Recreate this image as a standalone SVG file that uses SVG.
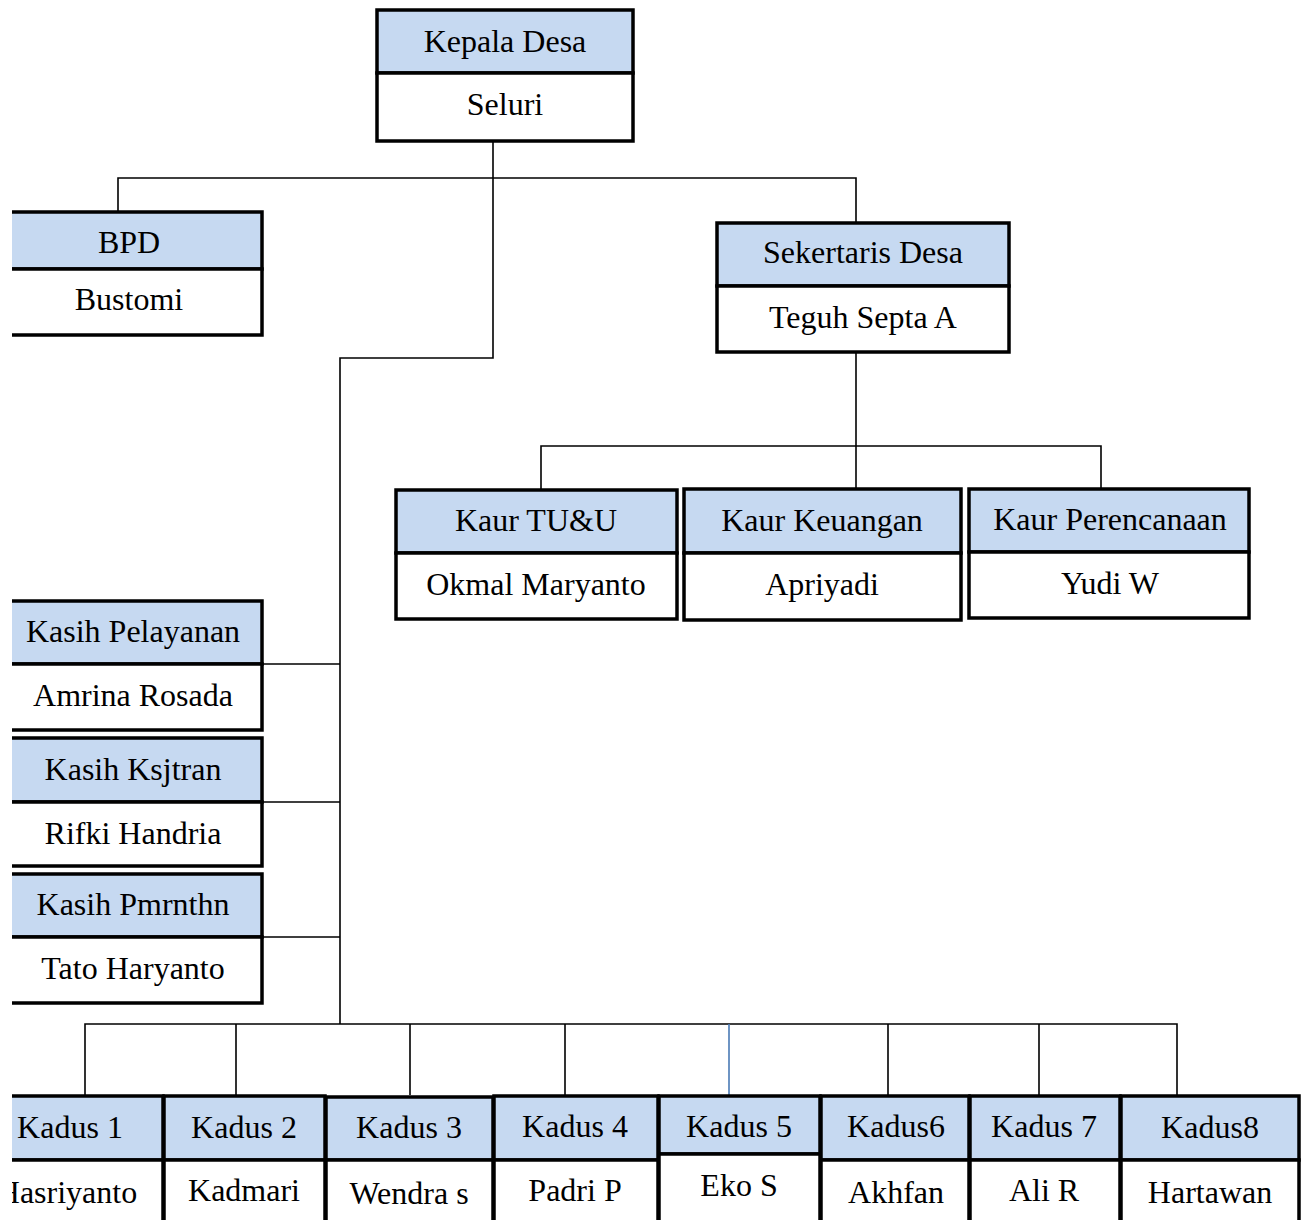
<svg xmlns="http://www.w3.org/2000/svg" width="1307" height="1220" viewBox="0 0 1307 1220">
<style>
.h{fill:#c6d9f1;stroke:#000;stroke-width:3.5}
.b{fill:#fff;stroke:#000;stroke-width:3.5}
.t{font-family:"Liberation Serif","Times New Roman",serif;font-size:32px;fill:#000;text-anchor:middle}
.c{fill:none;stroke:#000;stroke-width:1.6}
</style>
<defs><clipPath id="cp"><rect x="12" y="0" width="1295" height="1220"/></clipPath></defs>
<rect width="1307" height="1220" fill="#fff"/>
<g clip-path="url(#cp)">
<g id="connectors">
<path class="c" d="M493 142V358H340V1024"/>
<path class="c" d="M118 211V178H856V222"/>
<path class="c" d="M856 353V488"/>
<path class="c" d="M541 489V446H1101V488"/>
<path class="c" d="M263 664H340M263 802H340M263 937H340"/>
<path class="c" d="M85 1095V1024H1177V1095"/>
<path class="c" d="M236 1024V1095M410 1024V1095M565 1024V1095M888 1024V1095M1039 1024V1095"/>
<path d="M729 1024V1095" fill="none" stroke="#4a7ab5" stroke-width="1.6"/>
</g>
<g id="kepala"><rect class="h" x="377" y="10" width="256" height="63"/><rect class="b" x="377" y="73" width="256" height="68"/><text class="t" x="505" y="52">Kepala Desa</text><text class="t" x="505" y="115">Seluri</text></g>
<g id="bpd"><rect class="h" x="-5" y="212" width="267" height="57"/><rect class="b" x="-5" y="269" width="267" height="66"/><text class="t" x="129" y="253">BPD</text><text class="t" x="129" y="310">Bustomi</text></g>
<g id="sekdes"><rect class="h" x="717" y="223" width="292" height="63"/><rect class="b" x="717" y="286" width="292" height="66"/><text class="t" x="863" y="263">Sekertaris Desa</text><text class="t" x="863" y="328">Teguh Septa A</text></g>
<g id="kaurtu"><rect class="h" x="396" y="490" width="281" height="63"/><rect class="b" x="396" y="553" width="281" height="66"/><text class="t" x="536" y="531">Kaur TU&amp;U</text><text class="t" x="536" y="595">Okmal Maryanto</text></g>
<g id="kaurkeu"><rect class="h" x="684" y="489" width="277" height="64"/><rect class="b" x="684" y="553" width="277" height="67"/><text class="t" x="822" y="531">Kaur Keuangan</text><text class="t" x="822" y="595">Apriyadi</text></g>
<g id="kaurper"><rect class="h" x="969" y="489" width="280" height="63"/><rect class="b" x="969" y="552" width="280" height="66"/><text class="t" x="1110" y="530">Kaur Perencanaan</text><text class="t" x="1110" y="594">Yudi W</text></g>
<g id="kasihpel"><rect class="h" x="-5" y="601" width="267" height="63"/><rect class="b" x="-5" y="664" width="267" height="66"/><text class="t" x="133" y="642">Kasih Pelayanan</text><text class="t" x="133" y="706">Amrina Rosada</text></g>
<g id="kasihksj"><rect class="h" x="-5" y="738" width="267" height="64"/><rect class="b" x="-5" y="802" width="267" height="64"/><text class="t" x="133" y="780">Kasih Ksjtran</text><text class="t" x="133" y="844">Rifki Handria</text></g>
<g id="kasihpmr"><rect class="h" x="-5" y="874" width="267" height="63"/><rect class="b" x="-5" y="937" width="267" height="66"/><text class="t" x="133" y="915">Kasih Pmrnthn</text><text class="t" x="133" y="979">Tato Haryanto</text></g>
<g id="kadus1"><rect class="h" x="-20" y="1096" width="183" height="64"/><rect class="b" x="-20" y="1160" width="183" height="70"/><text class="t" x="70" y="1138">Kadus 1</text><text class="t" x="67" y="1203">Hasriyanto</text></g>
<g id="kadus2"><rect class="h" x="164" y="1096" width="161" height="64"/><rect class="b" x="164" y="1160" width="161" height="70"/><text class="t" x="244" y="1138">Kadus 2</text><text class="t" x="244" y="1201">Kadmari</text></g>
<g id="kadus3"><rect class="h" x="326" y="1097" width="167" height="63"/><rect class="b" x="326" y="1160" width="167" height="70"/><text class="t" x="409" y="1138">Kadus 3</text><text class="t" x="409" y="1204">Wendra s</text></g>
<g id="kadus4"><rect class="h" x="494" y="1096" width="164" height="64"/><rect class="b" x="494" y="1160" width="164" height="70"/><text class="t" x="575" y="1137">Kadus 4</text><text class="t" x="575" y="1201">Padri P</text></g>
<g id="kadus5"><rect class="h" x="659" y="1096" width="161" height="58"/><rect class="b" x="659" y="1154" width="161" height="76"/><text class="t" x="739" y="1137">Kadus 5</text><text class="t" x="739" y="1196">Eko S</text></g>
<g id="kadus6"><rect class="h" x="821" y="1096" width="148" height="64"/><rect class="b" x="821" y="1160" width="148" height="70"/><text class="t" x="896" y="1137">Kadus6</text><text class="t" x="896" y="1203">Akhfan</text></g>
<g id="kadus7"><rect class="h" x="970" y="1096" width="150" height="64"/><rect class="b" x="970" y="1160" width="150" height="70"/><text class="t" x="1044" y="1137">Kadus 7</text><text class="t" x="1044" y="1201">Ali R</text></g>
<g id="kadus8"><rect class="h" x="1121" y="1096" width="178" height="64"/><rect class="b" x="1121" y="1160" width="178" height="70"/><text class="t" x="1210" y="1138">Kadus8</text><text class="t" x="1210" y="1203">Hartawan</text></g>
</g>
</svg>
